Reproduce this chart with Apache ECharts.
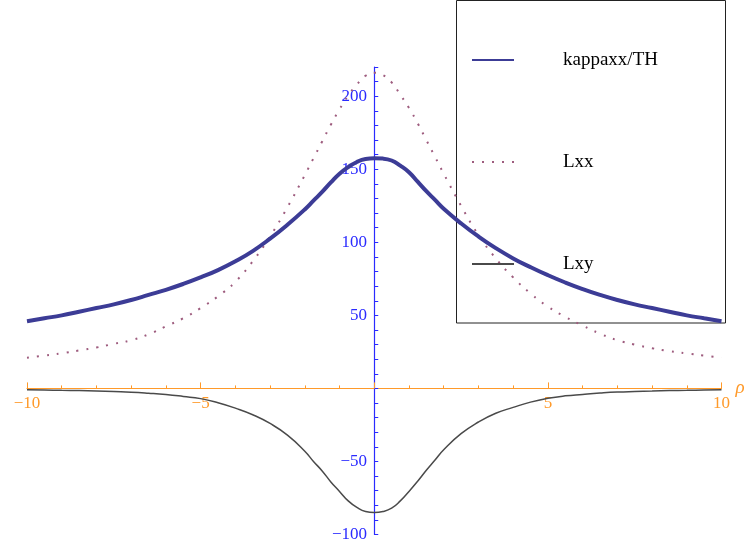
<!DOCTYPE html>
<html lang="en">
  <head>
    <meta charset="UTF-8" />
    <title>kappaxx/TH, Lxx, Lxy</title>
    <script src="https://cdn.jsdelivr.net/npm/echarts@6/dist/echarts.min.js"></script>
    <style>
      body {
        margin: 0;
        background-color: #ffffff;
      }

      #chart {
        width: 747px;
        height: 548px;
      }
    </style>
  </head>
  <body>
    <div id="chart"></div>
    <script>
      const chart = echarts.init(document.getElementById("chart"));

      // rho values (step 0.5, finer near the peak)
      var rho = [
        -10, -9.5, -9, -8.5, -8, -7.5, -7, -6.5, -6, -5.5, -5, -4.5, -4, -3.5,
        -3, -2.5, -2, -1.75, -1.5, -1.25, -1, -0.75, -0.5, -0.25, 0, 0.25, 0.5,
        0.75, 1, 1.25, 1.5, 1.75, 2, 2.5, 3, 3.5, 4, 4.5, 5, 5.5, 6, 6.5, 7,
        7.5, 8, 8.5, 9, 9.5, 10,
      ];
      var kappaxx = [
        46, 48, 50, 52.5, 55, 57.5, 60.5, 64, 67.5, 71.5, 76, 81, 87, 94, 102.5,
        112, 122.5, 128.5, 134.5, 141, 147, 151.5, 155, 157, 157.5, 157.3, 156,
        152.5, 148, 141.5, 135, 129, 123, 113, 104, 96, 89, 83, 77.5, 72.5, 68,
        64, 60.5, 57.5, 55, 52.5, 50, 48, 46,
      ];
      var lxx = [
        21, 22.5, 24, 26, 28, 30.5, 33, 37, 42.5, 48, 55, 63, 73, 87, 104, 124,
        146, 157.5, 169, 180.5, 191, 200.5, 208, 214, 216, 214.5, 209.5, 201,
        192, 181.5, 170, 158.5, 147, 125, 105, 89, 76, 65, 56, 49, 43, 37.5, 33,
        30, 27.5, 25.5, 24, 22.5, 21,
      ];
      var lxy = [
        -1, -1.1, -1.3, -1.5, -1.8, -2.2, -2.6, -3.3, -4.2, -5.5, -7, -9.8,
        -13.5, -18, -24, -32, -43, -50, -56.5, -64, -70.5, -77, -81.5, -84.3,
        -85, -84.3, -82, -77, -70.5, -63.5, -56, -49, -42, -31, -23, -17, -13,
        -9.4, -6.8, -5.1, -4.1, -3.2, -2.5, -2.1, -1.8, -1.5, -1.3, -1.1, -1,
      ];

      function pairs(ys) {
        return rho.map(function (x, i) {
          return [x, ys[i]];
        });
      }

      function minus(v) {
        return String(v).replace("-", "\u2212");
      }

      var orange = "#ff9a2a";
      var blue = "#2b2bff";
      var font = "Liberation Serif";

      // grid edges -> where the zero lines sit (for the label-only axes)
      var gridLeft = 27;
      var gridBottom = 13.5;
      var xZeroPx = 374; // x = 0 in pixels
      var yZeroPx = 388.5; // y = 0 in pixels

      const options = {
        backgroundColor: "#ffffff",
        animation: false,
        grid: {
          left: gridLeft,
          right: 25.5,
          top: 67,
          bottom: gridBottom,
          containLabel: false,
          outerBoundsMode: "none",
        },
        legend: {
          orient: "vertical",
          left: 471,
          top: 50,
          padding: 0,
          itemWidth: 42,
          itemHeight: 20,
          itemGap: 82,
          itemStyle: { opacity: 0 },
          textStyle: {
            fontFamily: font,
            fontSize: 19,
            lineHeight: 20,
            color: "#000",
            padding: [0, 0, 0, 44],
          },
          data: ["kappaxx/TH", "Lxx", "Lxy"],
        },
        graphic: [
          {
            type: "rect",
            shape: { x: 456.5, y: 0.5, width: 269, height: 322.5 },
            style: { fill: "none", stroke: "#222", lineWidth: 1 },
            z: 0,
          },
        ],
        xAxis: [
          {
            type: "value",
            min: -10,
            max: 10,
            interval: 5,
            name: "ρ",
            nameLocation: "end",
            nameGap: 14,
            nameTextStyle: {
              color: orange,
              fontFamily: font,
              fontStyle: "italic",
              fontSize: 19,
              verticalAlign: "middle",
            },
            axisLine: {
              onZero: true,
              lineStyle: { color: orange, width: 1.2 },
            },
            axisTick: {
              inside: true,
              length: 6,
              lineStyle: { color: orange },
            },
            minorTick: {
              show: true,
              splitNumber: 5,
              length: 3,
              lineStyle: { color: orange },
            },
            axisLabel: { show: false },
            splitLine: { show: false },
          },
          {
            // labels only, moved up to the zero line
            type: "value",
            min: -10,
            max: 10,
            interval: 5,
            position: "bottom",
            offset: -(548 - gridBottom - yZeroPx),
            axisLine: { show: false, onZero: false },
            axisTick: { show: false },
            axisLabel: {
              color: orange,
              fontFamily: font,
              fontSize: 17,
              margin: 7,
              formatter: function (v) {
                return v === 0 ? "" : minus(v);
              },
            },
            splitLine: { show: false },
          },
        ],
        yAxis: [
          {
            type: "value",
            min: -100,
            max: 220,
            interval: 10,
            axisLine: {
              onZero: true,
              lineStyle: { color: blue, width: 1.2 },
            },
            axisTick: {
              inside: true,
              length: 4,
              lineStyle: { color: blue },
            },
            axisLabel: { show: false },
            splitLine: { show: false },
          },
          {
            // labels only, moved right to the zero line
            type: "value",
            min: -100,
            max: 220,
            interval: 10,
            position: "left",
            offset: -(xZeroPx - gridLeft),
            axisLine: { show: false, onZero: false },
            axisTick: { show: false },
            axisLabel: {
              color: blue,
              fontFamily: font,
              fontSize: 17,
              margin: 7,
              formatter: function (v) {
                return v !== 0 && v % 50 === 0 ? minus(v) : "";
              },
            },
            splitLine: { show: false },
          },
        ],
        series: [
          {
            name: "kappaxx/TH",
            type: "line",
            data: pairs(kappaxx),
            smooth: true,
            symbol: "none",
            lineStyle: { color: "#3c3c96", width: 4 },
            itemStyle: { color: "#3c3c96" },
            z: 4,
          },
          {
            name: "Lxx",
            type: "line",
            data: pairs(lxx),
            smooth: true,
            symbol: "none",
            lineStyle: { color: "#9e5c7e", width: 2, type: [2, 8] },
            itemStyle: { color: "#9e5c7e" },
            z: 3,
          },
          {
            name: "Lxy",
            type: "line",
            data: pairs(lxy),
            smooth: true,
            symbol: "none",
            lineStyle: { color: "#4a4a4a", width: 1.5 },
            itemStyle: { color: "#4a4a4a" },
            z: 3,
          },
        ],
      };

      chart.setOption(options);
    </script>
  </body>
</html>
